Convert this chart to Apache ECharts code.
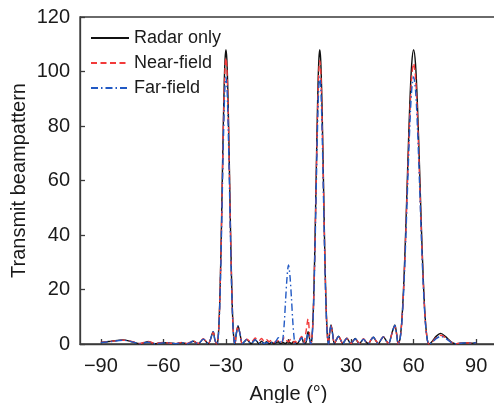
<!DOCTYPE html>
<html><head><meta charset="utf-8">
<script src="https://cdn.jsdelivr.net/npm/echarts@6/dist/echarts.min.js"></script>
<style>html,body{margin:0;padding:0;background:#fff}#c{width:494px;height:403px}</style>
</head><body><div id="c"></div>
<script>
// Angle samples (degrees)
const angles = [
  -90, -85, -79.5, -75, -71.3, -67.3, -64, -60.5, -57, -54, -51.3, -48.5, -45.7, -43.3, -40.9, -38.5, -36.1, -35.3,
  -34.3, -33.87, -33.44, -33.01, -32.58, -32.15, -31.72, -31.29, -30.86, -30.43, -30, -29.57, -29.14, -28.71, -28.28, -27.85, -27.42, -26.99, -26.56, -26.13, -25.7,
  -25.1, -24.2, -23.2, -22.2, -21.1, -20, -18.9, -17.9, -16.9, -16, -15, -14.2, -12.9, -11.7, -10.5, -9.3, -8.1, -7, -5.9, -4.9, -4, -3.2, -2.6, -2, -1.4, -0.7, 0, 0.7, 1.4, 2, 2.6, 3.2, 4, 5.1, 6.3, 7.4, 8.3, 9.4, 10.1,
  10.7, 11.13, 11.56, 11.99, 12.42, 12.85, 13.28, 13.71, 14.14, 14.57, 15, 15.43, 15.86, 16.29, 16.72, 17.15, 17.58, 18.01, 18.44, 18.87, 19.3,
  19.7, 20.4, 21.2, 22, 23, 24, 25, 26, 27, 28, 29, 30, 31, 32, 33, 34, 35, 36, 37, 38.3, 39.5, 40.7, 41.9, 43.1, 44.3, 45.5, 46.7, 48, 49.6, 51, 51.9,
  52.6, 53.53, 54.45, 55.38, 56.3, 57.23, 58.15, 59.08, 60, 60.93, 61.85, 62.78, 63.7, 64.63, 65.55, 66.48, 67.4,
  69, 70.8, 73, 75.5, 78, 80, 82.5, 85, 87.5, 90
];
const radarOnly = [
  0.6, 1.0, 1.5, 0.8, 0.1, 0.8, 0.1, 0.5, 0.4, 0.1, 0.5, 0.1, 1.0, 0.1, 1.8, 0.1, 4.5, 1.5,
  0, 1.3, 5.9, 14.6, 27.5, 43.7, 61.9, 79.6, 94.5, 104.5, 108, 104.5, 94.5, 79.6, 61.9, 43.7, 27.5, 14.6, 5.9, 1.3, 0,
  3.5, 6.6, 3.5, 0.1, 0.9, 1.7, 0.8, 0.1, 0.9, 1.6, 0.8, 0.1, 1.0, 0.1, 0.8, 0.1, 0.7, 0.1, 0.5, 0.8, 0.2, 0.3, 0.6, 0.3, 0.2, 0.7, 0.9, 0.5, 0.1, 0.6, 0.9, 0.5, 0.1, 1.0, 2.5, 0.3, 0.4, 4.5, 2.0,
  0, 1.3, 5.9, 14.6, 27.5, 43.7, 61.9, 79.6, 94.5, 104.5, 108, 104.5, 94.5, 79.6, 61.9, 43.7, 27.5, 14.6, 5.9, 1.3, 0,
  4.0, 7.0, 3.5, 0.1, 1.6, 2.9, 1.5, 0.1, 1.2, 2.1, 1.0, 0.1, 1.1, 2.0, 1.0, 0.1, 1.0, 1.8, 0.9, 0.1, 1.4, 2.5, 1.2, 0.1, 1.5, 2.7, 1.4, 0.1, 4.0, 7.0, 3.5,
  0, 2.1, 9.7, 23.9, 43.7, 66.4, 87.6, 102.6, 108, 102.6, 87.6, 66.4, 43.7, 23.9, 9.7, 2.1, 0,
  1.0, 2.8, 3.9, 2.6, 0.8, 0.1, 0.3, 0.4, 0.3, 0.5
];
const nearField = [
  0.6, 1.0, 1.4, 0.9, 0.2, 0.9, 0.2, 0.6, 0.3, 0.2, 0.6, 0.2, 1.1, 0.2, 1.9, 0.2, 4.3, 1.5,
  0, 1.3, 5.8, 14.2, 26.8, 42.5, 60.2, 77.4, 91.9, 101.6, 105, 101.6, 91.9, 77.4, 60.2, 42.5, 26.8, 14.2, 5.8, 1.3, 0,
  3.4, 6.4, 3.4, 0.2, 1.0, 1.8, 1.2, 0.6, 1.4, 2.2, 1.5, 1.2, 2.0, 1.0, 1.6, 0.8, 1.5, 0.5, 1.0, 1.2, 0.5, 0.8, 1.6, 2.5, 2.0, 1.2, 0.8, 1.5, 1.8, 1.2, 0.5, 1.0, 0.6, 1.5, 2.8, 0.5, 4.0, 9.2, 3.5,
  0, 1.2, 5.7, 14.0, 26.5, 42.1, 59.6, 76.6, 91.0, 100.7, 104, 100.7, 91.0, 76.6, 59.6, 42.1, 26.5, 14.0, 5.7, 1.2, 0,
  3.8, 6.8, 3.4, 0.2, 1.7, 2.9, 1.6, 0.2, 1.3, 2.1, 1.1, 0.2, 1.2, 2.0, 1.1, 0.2, 1.1, 1.9, 1.0, 0.2, 1.4, 2.6, 1.3, 0.2, 1.5, 2.6, 1.4, 0.2, 3.8, 6.6, 3.3,
  0, 2.0, 9.3, 22.8, 41.7, 63.3, 83.5, 97.9, 103, 97.9, 83.5, 63.3, 41.7, 22.8, 9.3, 2.0, 0,
  0.8, 2.3, 3.2, 2.2, 0.7, 0.1, 0.3, 0.4, 0.3, 0.5
];
const farField = [
  0.5, 0.9, 1.4, 0.8, 0.1, 0.7, 0.1, 0.4, 0.4, 0.1, 0.5, 0.1, 1.0, 0.1, 1.8, 0.1, 4.5, 1.5,
  0, 1.2, 5.4, 13.2, 25.0, 39.7, 56.2, 72.2, 85.8, 94.9, 98, 94.9, 85.8, 72.2, 56.2, 39.7, 25.0, 13.2, 5.4, 1.2, 0,
  3.5, 6.6, 3.5, 0.1, 0.9, 1.7, 0.8, 0.1, 0.9, 1.6, 0.8, 0.1, 0.9, 0.1, 0.6, 0.1, 0.5, 0.1, 1.2, 2.3, 0.8, 0.3, 2.5, 8, 16, 24.5, 29, 25, 17, 9, 3, 0.3, 0.6, 1.0, 2.3, 0.3, 0.5, 4.0, 2.0,
  0, 1.2, 5.4, 13.2, 25.0, 39.7, 56.2, 72.2, 85.8, 94.9, 98, 94.9, 85.8, 72.2, 56.2, 39.7, 25.0, 13.2, 5.4, 1.2, 0,
  3.8, 6.8, 3.4, 0.1, 1.6, 2.8, 1.5, 0.1, 1.2, 2.0, 1.0, 0.1, 1.1, 1.9, 1.0, 0.1, 1.0, 1.8, 0.9, 0.1, 1.4, 2.5, 1.2, 0.1, 1.5, 2.6, 1.3, 0.1, 3.8, 6.8, 3.4,
  0, 1.9, 8.8, 21.7, 39.7, 60.3, 79.5, 93.1, 98, 93.1, 79.5, 60.3, 39.7, 21.7, 8.8, 1.9, 0,
  0.7, 2.0, 2.8, 2.0, 0.6, 0.1, 0.3, 0.4, 0.3, 0.5
];
const xTickValues = [-90, -60, -30, 0, 30, 60, 90];
const seriesNames = ['Radar only', 'Near-field', 'Far-field'];

const pair = v => angles.map((a, i) => [a, v[i]]);
const font = '"Liberation Sans", Arial, Helvetica, sans-serif';
const axisCol = '#3a3a3a';

const chart = echarts.init(document.getElementById('c'));
chart.setOption({
  animation: false,
  backgroundColor: '#fff',
  textStyle: { fontFamily: font },
  grid: { left: 80, top: 17, width: 417, height: 327, outerBoundsMode: 'none', containLabel: false,
    show: true, borderColor: axisCol, borderWidth: 1.3, backgroundColor: 'transparent' },
  legend: {
    orient: 'vertical', left: 85, top: 23,
    itemWidth: 38, itemHeight: 12, itemGap: 5,
    itemStyle: { opacity: 0 },
    textStyle: { fontSize: 18, color: '#1a1a1a', fontFamily: font, lineHeight: 20 },
    data: seriesNames
  },
  xAxis: {
    type: 'value', min: -100, max: 100,
    name: 'Angle (°)', nameLocation: 'middle', nameGap: 40, nameMoveOverlap: false,
    nameTextStyle: { fontSize: 20, color: '#1a1a1a', fontFamily: font },
    axisLine: { onZero: false, lineStyle: { color: axisCol, width: 1.3 } },
    axisTick: { inside: true, length: 5, customValues: xTickValues, lineStyle: { color: axisCol, width: 1.3 } },
    axisLabel: { customValues: xTickValues, fontSize: 20, color: '#1a1a1a', margin: 12, fontFamily: font,
      formatter: v => String(v).replace('-', '\u2212') },
    splitLine: { show: false }
  },
  yAxis: {
    type: 'value', min: 0, max: 120, interval: 20,
    name: 'Transmit beampattern', nameLocation: 'middle', nameGap: 51, nameMoveOverlap: false,
    nameTextStyle: { fontSize: 20, color: '#1a1a1a', fontFamily: font },
    axisLine: { show: true, onZero: false, lineStyle: { color: axisCol, width: 1.3 } },
    axisTick: { show: true, inside: true, length: 5, lineStyle: { color: axisCol, width: 1.3 } },
    axisLabel: { fontSize: 20, color: '#1a1a1a', margin: 10, fontFamily: font },
    splitLine: { show: false }
  },
  series: [
    { name: seriesNames[0], type: 'line', data: pair(radarOnly), symbol: 'none', smooth: 0.3, clip: true,
      lineStyle: { color: '#111', width: 1.4 }, itemStyle: { color: '#111' } },
    { name: seriesNames[1], type: 'line', data: pair(nearField), symbol: 'none', smooth: 0.3, clip: true,
      lineStyle: { color: '#f23a3a', width: 1.4, type: [6, 3.5] }, itemStyle: { color: '#f23a3a' } },
    { name: seriesNames[2], type: 'line', data: pair(farField), symbol: 'none', smooth: 0.3, clip: true,
      lineStyle: { color: '#2159c4', width: 1.4, type: [7, 3, 1.5, 3] }, itemStyle: { color: '#2159c4' } }
  ]
});
</script>
</body></html>
